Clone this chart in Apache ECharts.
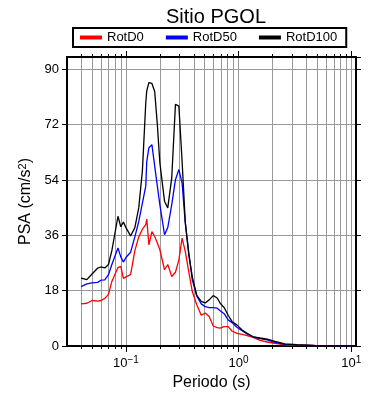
<!DOCTYPE html>
<html>
<head>
<meta charset="utf-8">
<title>Sitio PGOL</title>
<script src="https://cdn.jsdelivr.net/npm/echarts@6/dist/echarts.min.js"></script>
<style type="text/css">
body { margin: 0; background: #fff; }
#chart { width: 390px; height: 400px; }
</style>
</head>
<body>
<div id="chart"></div>
<script type="text/javascript">
// periodos (s)
var periods = [0.040, 0.045, 0.050, 0.056, 0.060, 0.065, 0.070, 0.075, 0.085, 0.090,
	0.095, 0.100, 0.110, 0.120, 0.130, 0.140, 0.150, 0.153, 0.160, 0.170,
	0.180, 0.190, 0.200, 0.220, 0.235, 0.255, 0.275, 0.295, 0.315, 0.336,
	0.361, 0.388, 0.425, 0.466, 0.505, 0.548, 0.595, 0.645, 0.686, 0.744,
	0.807, 0.876, 0.970, 1.074, 1.189, 1.344, 1.55, 1.79, 2.10, 2.58,
	3.29, 4.75, 7.14, 10.0];

var rotD0 = [13.7, 13.9, 14.8, 14.6, 14.8, 15.5, 16.8, 21.0, 25.5, 25.9,
	22.0, 22.5, 23.2, 31.0, 35.5, 38.0, 39.5, 41.3, 32.9, 37.2,
	35.6, 33.5, 31.3, 24.8, 26.5, 22.6, 24.0, 28.0, 35.1, 30.8,
	24.2, 17.7, 13.4, 10.0, 10.7, 9.6, 6.5, 6.0, 5.8, 6.3,
	6.3, 4.8, 4.1, 3.8, 3.4, 2.8, 1.8, 1.3, 0.9, 0.4,
	0.25, 0.15, 0.1, 0.07];

var rotD50 = [19.3, 20.2, 20.5, 20.7, 21.4, 21.5, 23.2, 26.5, 31.9, 29.0,
	27.3, 28.8, 30.5, 35.5, 40.5, 46.5, 52.0, 60.0, 64.5, 65.5,
	58.5, 52.0, 46.0, 36.2, 38.5, 46.0, 54.1, 57.4, 53.0, 40.0,
	30.5, 21.5, 16.3, 13.7, 12.8, 12.5, 12.5, 12.3, 11.5, 10.5,
	8.5, 7.6, 6.0, 5.0, 3.9, 3.0, 2.4, 2.0, 1.2, 0.5,
	0.3, 0.15, 0.1, 0.07];

var rotD100 = [22.1, 21.6, 23.4, 25.3, 25.7, 25.4, 26.5, 31.0, 42.2, 38.8,
	40.3, 38.5, 35.8, 38.5, 45.0, 57.0, 79.1, 83.0, 85.7, 85.4,
	82.8, 72.0, 59.6, 47.1, 44.9, 54.7, 78.6, 78.0, 60.1, 40.5,
	29.7, 22.5, 16.5, 14.5, 14.0, 15.0, 16.4, 15.6, 13.9, 12.5,
	10.0, 7.9, 6.8, 5.2, 4.1, 3.0, 2.6, 2.2, 1.5, 0.7,
	0.4, 0.2, 0.12, 0.08];

// marcas del eje x
var majorTicks = [0.1, 1, 10];
var minorTicks = [0.04, 0.05, 0.06, 0.07, 0.08, 0.09, 0.1,
	0.2, 0.3, 0.4, 0.5, 0.6, 0.7, 0.8, 0.9, 1,
	2, 3, 4, 5, 6, 7, 8, 9, 10];

var font = "'Liberation Sans', Arial, sans-serif";

function pairs(vals) {
	var out = [];
	for (var i = 0; i < periods.length; i++) {
		out.push([periods[i], vals[i]]);
	}
	return out;
}

function powLabel(v) {
	var e = Math.round(Math.log(v) / Math.LN10);
	return '10{sup|' + (e < 0 ? '\u2212' + (-e) : e) + '}';
}

function logAxis(pos, opts) {
	var a = {
		type: 'log',
		logBase: 10,
		position: pos,
		min: 0.03,
		max: 11,
		axisLine: { show: false, lineStyle: { color: '#000', width: 2 } },
		axisTick: { show: false },
		axisLabel: { show: false },
		splitLine: { show: false }
	};
	for (var k in opts) a[k] = opts[k];
	return a;
}

var Chart = echarts.init(document.getElementById('chart'));

var option = {
	animation: false,
	textStyle: { fontFamily: font },
	title: {
		text: 'Sitio PGOL',
		left: 211,
		textAlign: 'center',
		top: 2,
		textStyle: { fontFamily: font, fontSize: 20, fontWeight: 'normal', color: '#000' }
	},
	legend: {
		top: 28,
		left: 73,
		padding: [3, 9, 3, 7],
		borderColor: '#000',
		borderWidth: 2,
		borderRadius: 0,
		itemWidth: 22,
		itemHeight: 4,
		itemGap: 22,
		icon: 'rect',
		textStyle: { fontFamily: font, fontSize: 13, color: '#000' },
		data: ['RotD0', 'RotD50', 'RotD100']
	},
	grid: {
		left: 67,
		right: 34,
		top: 57,
		bottom: 54
	},
	xAxis: [
		// rejilla y marcas menores abajo
		logAxis('bottom', {
			axisLine: { show: true, lineStyle: { color: '#000', width: 2 } },
			axisTick: { show: true, customValues: minorTicks, length: 3, lineStyle: { color: '#000' } },
			splitLine: { show: true, lineStyle: { color: '#999', width: 1 } }
		}),
		// marcas mayores y etiquetas abajo
		logAxis('bottom', {
			name: 'Periodo (s)',
			nameLocation: 'middle',
			nameGap: 29,
			nameTextStyle: { fontFamily: font, fontSize: 16, color: '#000' },
			axisTick: { show: true, customValues: majorTicks, length: 6, lineStyle: { color: '#000' } },
			axisLabel: {
				show: true,
				customValues: majorTicks,
				margin: 9,
				color: '#000',
				fontFamily: font,
				fontSize: 13,
				formatter: powLabel,
				rich: {
					sup: { fontSize: 10, verticalAlign: 'top', color: '#000', fontFamily: font, padding: [0, 0, 6, 0] }
				}
			}
		}),
		// marco superior
		logAxis('top', {
			axisLine: { show: true, lineStyle: { color: '#000', width: 2 } },
			axisTick: { show: true, customValues: minorTicks, length: 3, lineStyle: { color: '#000' } }
		}),
		logAxis('top', {
			axisTick: { show: true, customValues: majorTicks, length: 6, lineStyle: { color: '#000' } }
		})
	],
	yAxis: [
		{
			type: 'value',
			position: 'left',
			min: 0,
			max: 94,
			interval: 18,
			name: 'PSA (cm/s{sup|2})',
			nameLocation: 'middle',
			nameGap: 27,
			nameTextStyle: {
				fontFamily: font,
				fontSize: 16,
				color: '#000',
				rich: {
					sup: { fontSize: 11, verticalAlign: 'top', fontFamily: font, color: '#000', padding: [0, 0, 6, 0] }
				}
			},
			axisLine: { show: true, lineStyle: { color: '#000', width: 2 } },
			axisTick: { show: true, length: 5, lineStyle: { color: '#000' } },
			axisLabel: { color: '#000', fontFamily: font, fontSize: 13, margin: 8, showMaxLabel: false },
			splitLine: { show: true, lineStyle: { color: '#999', width: 1 } }
		},
		{
			type: 'value',
			position: 'right',
			min: 0,
			max: 94,
			interval: 18,
			axisLine: { show: true, lineStyle: { color: '#000', width: 2 } },
			axisTick: { show: true, length: 5, lineStyle: { color: '#000' } },
			axisLabel: { show: false },
			splitLine: { show: false }
		}
	],
	series: [
		{
			name: 'RotD0',
			type: 'line',
			xAxisIndex: 0,
			yAxisIndex: 0,
			showSymbol: false,
			color: '#ff0000',
			lineStyle: { width: 1.3 },
			data: pairs(rotD0)
		},
		{
			name: 'RotD50',
			type: 'line',
			xAxisIndex: 0,
			yAxisIndex: 0,
			showSymbol: false,
			color: '#0000ff',
			lineStyle: { width: 1.3 },
			data: pairs(rotD50)
		},
		{
			name: 'RotD100',
			type: 'line',
			xAxisIndex: 0,
			yAxisIndex: 0,
			showSymbol: false,
			color: '#000000',
			lineStyle: { width: 1.3 },
			data: pairs(rotD100)
		}
	]
};

Chart.setOption(option);
</script>
</body>
</html>
